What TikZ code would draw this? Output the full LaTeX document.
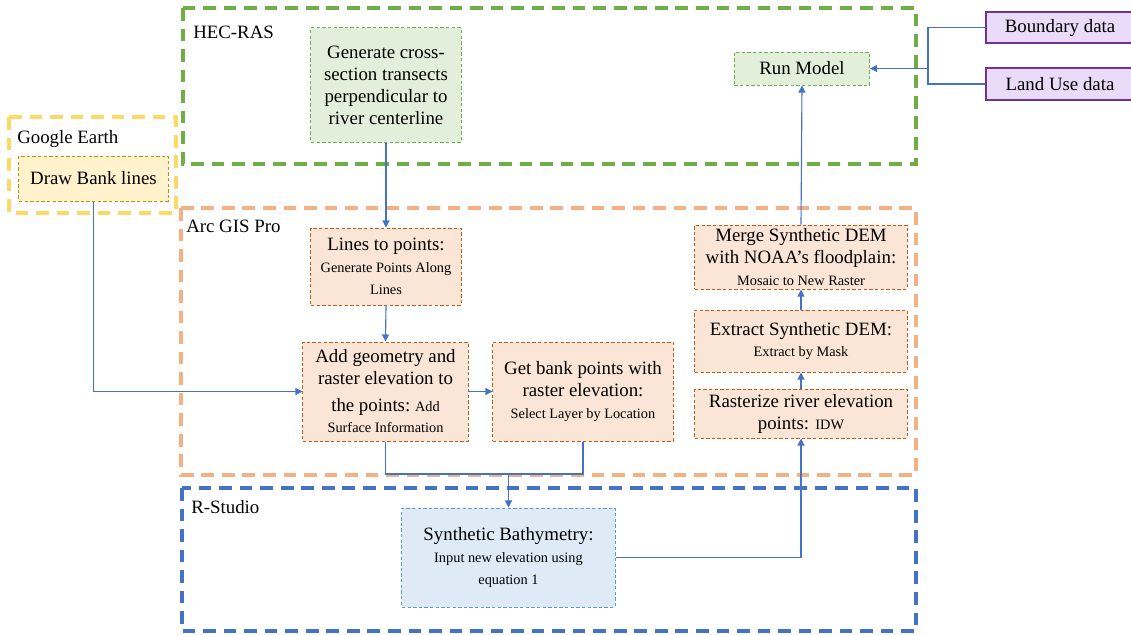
\documentclass[tikz,border=0pt]{standalone}
\usepackage{fontspec}
\setmainfont{Liberation Serif}
\usetikzlibrary{arrows.meta}

\definecolor{hecgreen}{HTML}{70AD47}
\definecolor{hecfill}{HTML}{E2EFDA}
\definecolor{gegold}{HTML}{FFD966}
\definecolor{gefill}{HTML}{FFF2CC}
\definecolor{geline}{HTML}{BF9000}
\definecolor{arcorange}{HTML}{F4B183}
\definecolor{arcfill}{HTML}{FBE5D6}
\definecolor{arcline}{HTML}{C55A11}
\definecolor{rsblue}{HTML}{4472C4}
\definecolor{rsfill}{HTML}{DEEBF7}
\definecolor{rsline}{HTML}{5B9BD5}
\definecolor{datafill}{HTML}{EADCF8}
\definecolor{dataline}{HTML}{7030A0}

\newcommand{\bigtxt}{\fontsize{13.4}{15.6}\selectfont}
\newcommand{\tooltxt}[1]{{\fontsize{10.2}{12.1}\selectfont #1}}

\tikzset{
  frame/.style={line width=2.3pt, dash pattern=on 9pt off 5.6pt},
  framelabel/.style={anchor=base west, inner sep=0pt, font=\bigtxt},
  stepbox/.style={draw, line width=0.7pt, dash pattern=on 2.4pt off 1.6pt,
    align=center, inner sep=2pt, font=\bigtxt},
  hecbox/.style={stepbox, draw=hecgreen, fill=hecfill},
  gebox/.style={stepbox, draw=geline, fill=gefill},
  arcbox/.style={stepbox, draw=arcline, fill=arcfill},
  rsbox/.style={stepbox, draw=rsline, fill=rsfill},
  databox/.style={draw=dataline, fill=datafill, line width=0.8pt, font=\bigtxt},
  flow/.style={draw=rsblue, line width=0.8pt, -{Triangle[length=5pt,width=5pt]}},
  link/.style={draw=rsblue, line width=0.8pt},
}

\begin{document}
\begin{tikzpicture}[x=0.025cm, y=-0.025cm]
  \useasboundingbox (0,0) rectangle (1131,634);

  % Draw the software frames
  \draw[frame, hecgreen] (183,8) rectangle (916,164);
  \draw[frame, gegold] (9,117) rectangle (176,213);
  \draw[frame, arcorange] (181,208) rectangle (916,475);
  \draw[frame, rsblue] (182,488) rectangle (916,631);
  \node[framelabel] (heclabel) at (193,38) {HEC-RAS};
  \node[framelabel] (gelabel) at (17,143) {Google Earth};
  \node[framelabel] (arclabel) at (186,232) {Arc GIS Pro};
  \node[framelabel] (rslabel) at (191,513) {R-Studio};

  % HEC-RAS steps
  \node[hecbox, minimum width=3.75cm, minimum height=2.85cm] (gen) at (386,85)
    {Generate cross-\\section transects\\perpendicular to\\river centerline};
  \node[hecbox, minimum width=3.375cm, minimum height=0.825cm] (run) at (802,68.5)
    {Run Model};

  % outside data
  \node[databox, minimum width=3.7cm, minimum height=0.775cm] (bound) at (1060,27.5)
    {Boundary data};
  \node[databox, minimum width=3.7cm, minimum height=0.8cm] (land) at (1060,84)
    {Land Use data};

  % Google Earth step
  \node[gebox, minimum width=3.725cm, minimum height=1.125cm] (bank) at (93.5,178.5)
    {Draw Bank lines};

  % Arc GIS Pro steps
  \node[arcbox, minimum width=3.75cm, minimum height=1.925cm] (pts) at (386,266.5)
    {Lines to points:\\\tooltxt{Generate Points Along}\\\tooltxt{Lines}};
  \node[arcbox, minimum width=4.125cm, minimum height=2.475cm] (geom) at (385.5,391.5)
    {Add geometry and\\raster elevation to\\[3pt]the points:\ \tooltxt{Add}\\\tooltxt{Surface Information}};
  \node[arcbox, minimum width=4.5cm, minimum height=2.475cm] (getbank) at (583,391.5)
    {Get bank points with\\raster elevation:\\\tooltxt{Select Layer by Location}};
  \node[arcbox, minimum width=5.3cm, minimum height=1.6cm] (merge) at (801,257)
    {Merge Synthetic DEM\\with NOAA's floodplain:\\\tooltxt{Mosaic to New Raster}};
  \node[arcbox, minimum width=5.3cm, minimum height=1.55cm] (extract) at (801,341)
    {Extract Synthetic DEM:\\\tooltxt{Extract by Mask}};
  \node[arcbox, minimum width=5.3cm, minimum height=1.225cm] (raster) at (801,413.5)
    {Rasterize river elevation\\points: \tooltxt{IDW}};

  % R-Studio step
  \node[rsbox, minimum width=5.325cm, minimum height=2.475cm] (synth) at (508.5,557.5)
    {Synthetic Bathymetry:\\\tooltxt{Input new elevation using}\\\tooltxt{equation 1}};

  % connectors
  \coordinate (split) at (928,68.5);
  \coordinate (join) at (508.5,474);
  \draw[link] (bound.west) -| (split);
  \draw[link] (land.west) -| (split);
  \draw[flow] (split) -- (run.east);
  \draw[flow] (gen.south) -- (pts.north);
  \draw[flow] (pts.south) -- (geom.north);
  \draw[flow] (bank.south) |- (geom.west);
  \draw[flow] (geom.east) -- (getbank.west);
  \draw[link] (geom.south) |- (join);
  \draw[link] (getbank.south) |- (join);
  \draw[flow] (join) -- (synth.north);
  \draw[flow] (synth.east) -| (raster.south);
  \draw[flow] (raster.north) -- (extract.south);
  \draw[flow] (extract.north) -- (merge.south);
  \draw[flow] (merge.north) -- (run.south);

\end{tikzpicture}
\end{document}
